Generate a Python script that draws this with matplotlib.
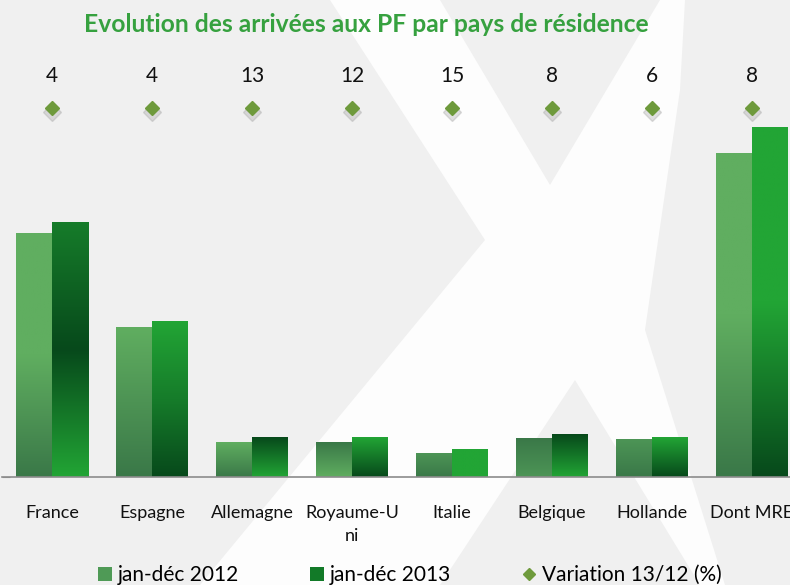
import numpy as np
import matplotlib
matplotlib.use("Agg")
from matplotlib import pyplot as plt
from matplotlib.colors import LinearSegmentedColormap
from matplotlib.patches import Polygon, Rectangle
from matplotlib.lines import Line2D
from matplotlib import transforms

plt.rcParams['font.family'] = ['Lato', 'DejaVu Sans']

# data (heights, arbitrary units)
pays = ['France', 'Espagne', 'Allemagne', 'Royaume-U\nni', 'Italie',
        'Belgique', 'Hollande', 'Dont MRE']
arr2012 = [244, 150, 35, 35, 24, 39, 38, 324]
arr2013 = [255, 156, 40, 40, 28, 43, 40, 350]
variation = [4, 4, 13, 12, 15, 8, 6, 8]

# gradient colours per bar, top -> bottom
light, mid12, dark12 = '#60ae60', '#4d9556', '#3a7848'
bright, mid13, dark13 = '#22a535', '#167c2a', '#07491b'
grad2012 = [[light, light, dark12], [light, dark12], [light, dark12],
            [dark12, light], [mid12, dark12], [dark12, mid12],
            [mid12, dark12], [light, light, dark12]]
grad2013 = [[mid13, dark13, bright], [bright, mid13, dark13], [dark13, bright],
            [bright, dark13], [bright, bright], [dark13, bright],
            [bright, dark13], [bright, bright, dark13]]

W, H = 790, 585
fig = plt.figure(figsize=(W / 100, H / 100), dpi=100)
fig.patch.set_facecolor('#fdfdfd')


def px(pts):
    return [(x / W, 1 - y / H) for x, y in pts]


# faint X watermark in the background
gray = '#f0f0f0'
for shape in [
    [(0, 0), (330, 0), (485, 240), (200, 585), (0, 585)],
    [(440, 0), (660, 0), (550, 185)],
    [(685, 0), (790, 0), (790, 585), (725, 585), (645, 330), (680, 90)],
    [(440, 585), (700, 585), (575, 380)],
]:
    fig.patches.append(Polygon(px(shape), closed=True, transform=fig.transFigure,
                               facecolor=gray, edgecolor='none', zorder=-10))

ax = fig.add_axes([2 / W, 108 / H, 800 / W, 400 / H])
ax.patch.set_alpha(0)

x = np.arange(len(pays))
bw = 0.36


def grad_bar(xc, h, colors):
    bar = ax.bar(xc, h, bw, color='none', edgecolor='none', zorder=2)[0]
    cmap = LinearSegmentedColormap.from_list('g', colors[::-1])
    img = ax.imshow(np.linspace(0, 1, 256).reshape(-1, 1), cmap=cmap, origin='lower',
                    extent=[xc - bw / 2, xc + bw / 2, 0, h], aspect='auto',
                    interpolation='bilinear', zorder=2)
    img.set_clip_path(bar)


for i in range(len(pays)):
    grad_bar(x[i] - bw / 2, arr2012[i], grad2012[i])
    grad_bar(x[i] + bw / 2, arr2013[i], grad2013[i])

# diamonds for the variation, drawn on one row with the value above
level = 369
shadow = transforms.offset_copy(ax.transData, fig=fig, x=0, y=-4, units='dots')
ax.plot(x, [level] * len(x), 'D', ms=9, color='#9a9a9a', alpha=0.3,
        transform=shadow, clip_on=False, zorder=3)
ax.plot(x, [level] * len(x), 'D', ms=7.5, color='#6e9a3c', clip_on=False, zorder=4)
for xi, v in zip(x, variation):
    ax.annotate(str(v), (xi, level), xytext=(0, 23), textcoords='offset points',
                ha='center', va='center', fontsize=15, color='#111111')

ax.set_xlim(-0.5, len(pays) - 0.5)
ax.set_ylim(0, 400)
ax.set_xticks(x)
ax.set_xticklabels(pays, fontsize=13, color='#111111', linespacing=1.55)
ax.tick_params(axis='x', length=0, pad=20)
ax.set_yticks([0])
ax.tick_params(axis='y', direction='in', length=6, color='#8c8c8c', labelleft=False)
for s in ['top', 'right', 'left']:
    ax.spines[s].set_visible(False)
ax.spines['bottom'].set_color('#8c8c8c')
ax.spines['bottom'].set_linewidth(1.2)

fig.text(366 / W, 1 - 25 / H, 'Evolution des arrivées aux PF par pays de résidence',
         ha='center', va='center', fontsize=17.7, fontweight='bold', color='#36a13f')

handles = [Rectangle((0, 0), 1, 1, facecolor='#4f9a56', edgecolor='none'),
           Rectangle((0, 0), 1, 1, facecolor='#127a28', edgecolor='none'),
           Line2D([], [], marker='D', ls='none', ms=6, color='#6e9a3c')]
fig.legend(handles, ['jan-déc 2012', 'jan-déc 2013', 'Variation 13/12 (%)'],
           loc='center', bbox_to_anchor=(410 / W, 1 - 575 / H), ncol=3, frameon=False,
           fontsize=15, handlelength=0.65, handleheight=0.65, handletextpad=0.3,
           columnspacing=3.4, borderaxespad=0)

fig.savefig('out.png', dpi=100, facecolor=fig.get_facecolor())
